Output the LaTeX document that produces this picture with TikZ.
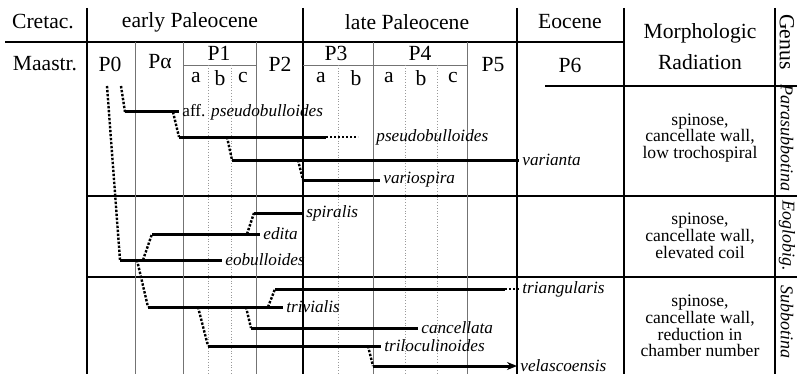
\documentclass[tikz,border=0pt]{standalone}
\usepackage{fontspec}
\setmainfont{Liberation Serif}
\usetikzlibrary{positioning,arrows.meta,calc}
\tikzset{
  >=Stealth,
}

\begin{document}
\begin{tikzpicture}[
  x=0.5pt,y=-0.5pt,
  tableline/.style={line width=0.65pt},
  zone/.style={draw=black!55,line width=0.4pt},
  subzone/.style={draw=black!40,line width=0.4pt,densely dotted},
  lifespan/.style={line width=1.5pt},
  anc/.style={line width=1.2pt,dash pattern=on 1.2pt off 0.8pt},
  head/.style={font=\fontsize{10.8}{12}\selectfont,inner sep=0pt},
  taxon/.style={font=\fontsize{8.6}{10}\selectfont\itshape,anchor=west,inner sep=1.5pt},
  morph/.style={font=\fontsize{8.8}{8.4}\selectfont,align=center},
  genus/.style={font=\fontsize{9}{10}\selectfont\itshape,rotate=-90}
]
\useasboundingbox (0,0) rectangle (797,374);

% table frame
\draw[tableline] (5,42) -- (624,42);
\draw[tableline] (545,86) -- (797,86);
\draw[tableline] (87,196) -- (797,196);
\draw[tableline] (87,277) -- (797,277);
\foreach \x in {87,303,517,624,775}
  \draw[tableline] (\x,8) -- (\x,374);
\foreach \x in {135,183,256,373,467}
  \draw[zone] (\x,42) -- (\x,374);
\draw[zone] (183,65) -- (256,65);
\draw[zone] (303,65) -- (467,65);
\foreach \x in {208,231,338,405,437}
  \draw[subzone] (\x,65) -- (\x,374);

% header
\node[head] (cret) at (43,22) {Cretac.};
\node[head] (epal) at (190,22) {early Paleocene};
\node[head] (lpal) at (407,22) {late Paleocene};
\node[head] (eoc) at (570,22) {Eocene};
\node[head] (morph) at (700,33) {Morphologic};
\node[head] (rad) at (700,62) {Radiation};
\node[head,rotate=-90] (genushead) at (787,42) {Genus};

\node[head] (maas) at (45,64) {Maastr.};
\node[head] (p0) at (110,64) {P0};
\node[head] (palpha) at (160,62) {Pα};
\node[head] (p1) at (219,53) {P1};
\node[head] (p1a) at (196,78) {a};
\node[head] (p1b) at (220,78) {b};
\node[head] (p1c) at (243,78) {c};
\node[head] (p2) at (280,64) {P2};
\node[head] (p3) at (336,53) {P3};
\node[head] (p3a) at (321,78) {a};
\node[head] (p3b) at (356,78) {b};
\node[head] (p4) at (420,53) {P4};
\node[head] (p4a) at (389,78) {a};
\node[head] (p4b) at (421,78) {b};
\node[head] (p4c) at (453,78) {c};
\node[head] (p5) at (493,65) {P5};
\node[head] (p6) at (570,65) {P6};

% morphologic radiation
\node[morph] (rad1) at (700,138) {spinose,\\cancellate wall,\\low trochospiral};
\node[morph] (rad2) at (700,236) {spinose,\\cancellate wall,\\elevated coil};
\node[morph] (rad3) at (700,326) {spinose,\\cancellate wall,\\reduction in\\chamber number};

% genera
\node[genus] (parasub) at (787,138) {Parasubbotina};
\node[genus] (eoglob) at (787,236) {Eoglobig.};
\node[genus] (subbot) at (787,322) {Subbotina};

% branch points
\coordinate (top1) at (107,86);
\coordinate (top2) at (121,86);
\coordinate (b1) at (173,112);
\coordinate (b2) at (227,137);
\coordinate (b3) at (298,160);
\coordinate (b4) at (137,260);
\coordinate (b5) at (143,260);
\coordinate (b6) at (247,234);
\coordinate (b7) at (198,307);
\coordinate (b8) at (246,307);
\coordinate (b9) at (268,307);
\coordinate (b10) at (368,346);

% Parasubbotina
\coordinate (affpseu0) at (125,112);
\node[taxon] (affpseu) at (179,112) {\upshape aff. \itshape pseudobulloides};
\coordinate (pseudo0) at (179,137);
\coordinate (pseudo1) at (326,137);
\coordinate (pseudo2) at (358,137);
\node[taxon] (pseudo) at (373,137) {pseudobulloides};
\coordinate (varia0) at (232,160);
\node[taxon] (varia) at (519,160) {varianta};
\coordinate (vario0) at (303,180);
\node[taxon] (vario) at (380,180) {variospira};

% Eoglobigerina
\coordinate (eobul0) at (120,260);
\node[taxon] (eobul) at (222,260) {eobulloides};
\coordinate (edita0) at (152,234);
\node[taxon] (edita) at (260,234) {edita};
\coordinate (spir0) at (254,213);
\node[taxon] (spir) at (303,213) {spiralis};

% Subbotina
\coordinate (triv0) at (148,307);
\node[taxon] (triv) at (283,307) {trivialis};
\coordinate (trian0) at (275,289);
\coordinate (trian1) at (505,289);
\node[taxon] (trian) at (519,289) {triangularis};
\coordinate (canc0) at (251,328);
\node[taxon] (canc) at (418,328) {cancellata};
\coordinate (trilo0) at (208,346);
\node[taxon] (trilo) at (381,346) {triloculinoides};
\coordinate (velas0) at (373,366);
\node[taxon] (velas) at (517,366) {velascoensis};

% ancestry
\draw[anc] (top2) -- (affpseu0);
\draw[anc] (b1) -- (pseudo0);
\draw[anc] (b2) -- (varia0);
\draw[anc] (b3) -- (vario0);
\draw[anc] (top1) -- (eobul0);
\draw[anc] (b5) -- (edita0);
\draw[anc] (b6) -- (spir0);
\draw[anc] (b4) -- (triv0);
\draw[anc] (b9) -- (trian0);
\draw[anc] (b8) -- (canc0);
\draw[anc] (b7) -- (trilo0);
\draw[anc] (b10) -- (velas0);

% ranges
\draw[lifespan] (affpseu0) -- (affpseu.west);
\draw[lifespan] (pseudo0) -- (pseudo1);
\draw[anc] (pseudo1) -- (pseudo2);
\draw[lifespan] (varia0) -- (varia.west);
\draw[lifespan] (vario0) -- (vario.west);
\draw[lifespan] (eobul0) -- (eobul.west);
\draw[lifespan] (edita0) -- (edita.west);
\draw[lifespan] (spir0) -- (spir.west);
\draw[lifespan] (triv0) -- (triv.west);
\draw[lifespan] (trian0) -- (trian1);
\draw[anc] (trian1) -- (trian.west);
\draw[lifespan] (canc0) -- (canc.west);
\draw[lifespan] (trilo0) -- (trilo.west);
\draw[lifespan,-{Stealth[length=5pt,width=4pt]}] (velas0) -- (velas.west);

\end{tikzpicture}
\end{document}
